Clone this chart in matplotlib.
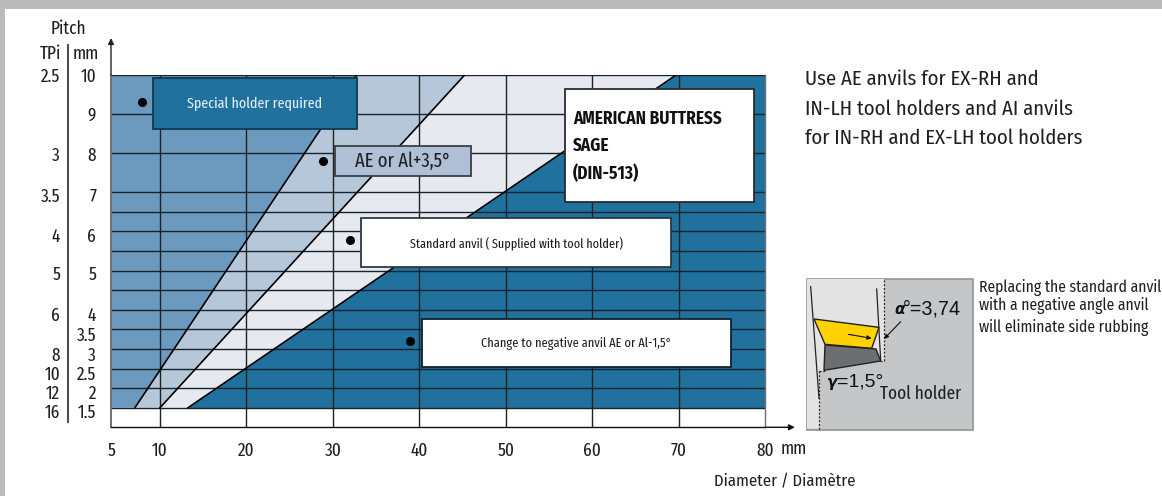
import matplotlib
matplotlib.use("Agg")
import matplotlib.pyplot as plt
from matplotlib.patches import Rectangle, Polygon

NARROW = 'Fira Sans Extra Condensed'
MID = 'Fira Sans Condensed'
plt.rcParams['font.family'] = [NARROW, 'PT Sans Narrow', 'Roboto', 'DejaVu Sans']

# --- data ---
x_ticks = [4.33, 10, 20, 30, 40, 50, 60, 70, 80]
x_labels = ['5', '10', '20', '30', '40', '50', '60', '70', '80']
pitch_lines = [9, 8, 7, 6.5, 6, 5.5, 5, 4.5, 4, 3.5, 3, 2.5, 2, 1.5, 10]
mm_values = [10, 9, 8, 7, 6, 5, 4, 3.5, 3, 2.5, 2, 1.5]
mm_labels = ['10', '9', '8', '7', '6', '5', '4', '3.5', '3', '2.5', '2', '1.5']
tpi_values = [10, 8, 7, 6, 5, 4, 3, 2.5, 2, 1.5]
tpi_labels = ['2.5', '3', '3.5', '4', '5', '6', '8', '10', '12', '16']
y_top, y_bottom = 10, 1.5
b1 = [7.1, 32.8]   # diameter of boundary lines at pitch 1.5 and pitch 10
b2 = [10.0, 45.3]
b3 = [13.24, 69.8]
dot_x = [7.9, 28.9, 32.0, 38.9]
dot_y = [9.29, 7.8, 5.77, 3.2]

C1, C2, C3, C4 = '#6c9abf', '#b7c7da', '#e6e9ef', '#21719f'
INK = '#1f1f1f'

W, H = 1162, 496
fig = plt.figure(figsize=(W / 100, H / 100), dpi=100, facecolor='white')

# page frame
bg = fig.add_axes([0, 0, 1, 1], zorder=0)
bg.set_xlim(0, W); bg.set_ylim(H, 0); bg.axis('off')
bg.add_patch(Rectangle((0, 0), W, 9, fc='#b9bcba', ec='none'))
bg.add_patch(Rectangle((0, 0), 5, H, fc='#b9bcba', ec='none'))

# main chart
L, R, T, B = 111, 765, 74.5, 427.3
ax = fig.add_axes([L / W, 1 - B / H, (R - L) / W, (B - T) / H], zorder=1)
ax.set_xlim(x_ticks[0], 80); ax.set_ylim(1, 10)
ax.patch.set_alpha(0)

xmin, xmax = x_ticks[0], 80
ax.add_patch(Polygon([(xmin, y_bottom), (b1[0], y_bottom), (b1[1], y_top), (xmin, y_top)], fc=C1, ec='none', zorder=1))
ax.add_patch(Polygon([(b1[0], y_bottom), (b2[0], y_bottom), (b2[1], y_top), (b1[1], y_top)], fc=C2, ec='none', zorder=1))
ax.add_patch(Polygon([(b2[0], y_bottom), (b3[0], y_bottom), (b3[1], y_top), (b2[1], y_top)], fc=C3, ec='none', zorder=1))
ax.add_patch(Polygon([(b3[0], y_bottom), (xmax, y_bottom), (xmax, y_top), (b3[1], y_top)], fc=C4, ec='none', zorder=1))

for v in x_ticks[1:-1]:
    ax.plot([v, v], [1, 10], color='#202020', lw=1.0, zorder=2, solid_capstyle='butt')
for v in pitch_lines:
    ax.plot([xmin, xmax], [v, v], color='#15232c', lw=1.0, zorder=2, solid_capstyle='butt')
for b in (b1, b2, b3):
    ax.plot(b, [y_bottom, y_top], color='black', lw=1.2, zorder=3)
ax.plot(dot_x, dot_y, 'o', color='black', ms=5.5, zorder=4, ls='none')

ax.spines['top'].set_visible(False)
ax.spines['right'].set_color('#707070'); ax.spines['right'].set_linewidth(1.0)
ax.spines['left'].set_color('#707070'); ax.spines['left'].set_linewidth(1.4)
ax.spines['bottom'].set_color('#101010'); ax.spines['bottom'].set_linewidth(1.0)
FS = 13.5
ax.set_xticks(x_ticks, x_labels, fontsize=FS, color=INK)
ax.tick_params(axis='x', length=0, pad=10.5)
ax.set_yticks([])

# pitch scales
mm_off = [-2.5, -1.5, -2.5, -4.5, -5.5, -4.5, -6, -7, -6.5, -6, -5.5, -5.5]
for v, t, d in zip(mm_values, mm_labels, mm_off):
    ax.annotate(t, xy=(0, v), xycoords=('axes fraction', 'data'), xytext=(-15, d), textcoords='offset pixels',
                ha='right', va='center', fontsize=FS, color=INK)
tpi_off = [-2.5, -2.5, -5, -5.5, -4.5, -6, -6.5, -6, -5.5, -5.5]
for v, t, d in zip(tpi_values, tpi_labels, tpi_off):
    ax.annotate(t, xy=(0, v), xycoords=('axes fraction', 'data'), xytext=(-51, d), textcoords='offset pixels',
                ha='right', va='center', fontsize=FS, color=INK)

# overlay in page pixels
ov = fig.add_axes([0, 0, 1, 1], zorder=3)
ov.set_xlim(0, W); ov.set_ylim(H, 0); ov.axis('off'); ov.patch.set_alpha(0)

def box(x0, y0, x1, y1, fc, ec='#1d2a33', lw=1.3):
    ov.add_patch(Rectangle((x0, y0), x1 - x0, y1 - y0, fc=fc, ec=ec, lw=lw, zorder=3))

box(153, 77.5, 357, 129, C4, '#12384f')
ov.text(255, 104, 'Special holder required', color='#e4eef5', fontsize=11, ha='center', va='center', zorder=5)
box(335, 146, 470.5, 176, '#aebfd6', '#3a3f45')
ov.text(403, 161.5, 'AE or Al+3,5°', color=INK, fontsize=14.5, ha='center', va='center', zorder=5)
box(361, 218, 671, 267, 'white', '#2b3a44')
ov.text(516.5, 244.5, 'Standard anvil ( Supplied with tool holder)', color=INK, fontsize=9.5, ha='center', va='center', zorder=5)
box(421.5, 318.5, 731, 367, 'white', '#10222e')
ov.text(576, 343.5, 'Change to negative anvil AE or Al-1,5°', color=INK, fontsize=9.7, ha='center', va='center', zorder=5)
box(565, 89, 754, 202, 'white', '#2b2b2b')
for y, s in zip((119, 146, 174), ('AMERICAN BUTTRESS', 'SAGE', '(DIN-513)')):
    ov.text(573, y, s, color='#111111', fontsize=12.4, fontweight='bold', family=MID, ha='left', va='center', zorder=5)

# axis arrows
ov.annotate('', xy=(111, 38), xytext=(111, 75), arrowprops=dict(arrowstyle='-|>,head_width=0.17,head_length=0.35', color='#222', lw=1.0, shrinkA=0, shrinkB=0))
ov.annotate('', xy=(795, 427.3), xytext=(765, 427.3), arrowprops=dict(arrowstyle='-|>,head_width=0.17,head_length=0.35', color='#111', lw=1.0, shrinkA=0, shrinkB=0))

# scale headers
ov.plot([68, 68], [45, 422], color='#505050', lw=1.5)
ov.text(68, 29, 'Pitch', fontsize=FS, color=INK, ha='center', va='center')
ov.text(50, 54, 'TPi', fontsize=FS, color=INK, ha='center', va='center')
ov.text(86, 54, 'mm', fontsize=FS, color=INK, ha='center', va='center')
ov.text(794, 449, 'mm', fontsize=FS, color=INK, ha='center', va='center')
ov.text(785, 482, 'Diameter / Diamètre', fontsize=12, family=MID, color=INK, ha='center', va='center')

# side note
for y, s in zip((79, 109, 138), ('Use AE anvils for EX-RH and', 'IN-LH tool holders and AI anvils', 'for IN-RH and EX-LH tool holders')):
    ov.text(805, y, s, fontsize=14.9, family=MID, color=INK, ha='left', va='center')
for y, s in zip((287, 306, 327), ('Replacing the standard anvil', 'with a negative angle anvil', 'will eliminate side rubbing')):
    ov.text(979, y, s, fontsize=11.2, family=MID, color=INK, ha='left', va='center', clip_on=True)

# inset diagram (zoom-space helper)
def z(p):
    return (790 + p[0] / 3, 265 + p[1] / 3)

box(806.7, 278.5, 973, 429.5, '#c5c6c8', '#8f9495', 1.2)
ov.add_patch(Polygon([z(p) for p in [(51, 42), (283, 42), (283, 288), (270, 288), (105, 318), (88, 318), (88, 491), (51, 491)]], fc='#e3e3e3', ec='none', zorder=4))
ov.add_patch(Polygon([z(p) for p in [(72, 162), (267, 187), (245, 250), (105, 238)]], fc='#ffd200', ec='#222', lw=1.0, zorder=5))
ov.add_patch(Polygon([z(p) for p in [(105, 240), (258, 252), (272, 288), (102, 316)]], fc='#6d6e70', ec='#222', lw=1.0, zorder=5))

def seg(a, b, **kw):
    pa, pb = z(a), z(b)
    ov.plot([pa[0], pb[0]], [pa[1], pb[1]], zorder=6, **kw)

seg((62, 65), (87, 400), color='#222', lw=0.9)
seg((260, 72), (272, 285), color='#222', lw=0.9)
for a, b in [((283, 45), (283, 288)), ((270, 288), (283, 288)), ((88, 318), (88, 491)), ((88, 318), (105, 318))]:
    seg(a, b, color='#222', lw=0.9, ls=(0, (1.5, 1.5)))
ov.annotate('', xy=z((245, 220)), xytext=z((175, 208)), zorder=7, arrowprops=dict(arrowstyle='-|>,head_width=0.12,head_length=0.25', color='#111', lw=0.8, shrinkA=0, shrinkB=0))
ov.annotate('', xy=z((282, 222)), xytext=z((332, 170)), zorder=7, arrowprops=dict(arrowstyle='-|>,head_width=0.12,head_length=0.25', color='#111', lw=0.8, shrinkA=0, shrinkB=0))
ov.text(*z((312, 135)), 'α', fontsize=11, style='italic', fontweight='bold', family='DejaVu Sans', color='#111', ha='left', va='center', zorder=7)
ov.text(*z((338, 132)), '°=3,74', fontsize=14.2, family='Liberation Sans', color='#111', ha='left', va='center', zorder=7)
ov.text(*z((110, 352)), 'γ', fontsize=11, style='italic', fontweight='bold', family='DejaVu Sans', color='#111', ha='left', va='center', zorder=7)
ov.text(*z((140, 352)), '=1,5°', fontsize=14, family='Liberation Sans', color='#111', ha='left', va='center', zorder=7)
ov.text(*z((270, 387)), 'Tool holder', fontsize=13.5, family=NARROW, color=INK, ha='left', va='center', zorder=7)

fig.savefig('out.png', dpi=100)
